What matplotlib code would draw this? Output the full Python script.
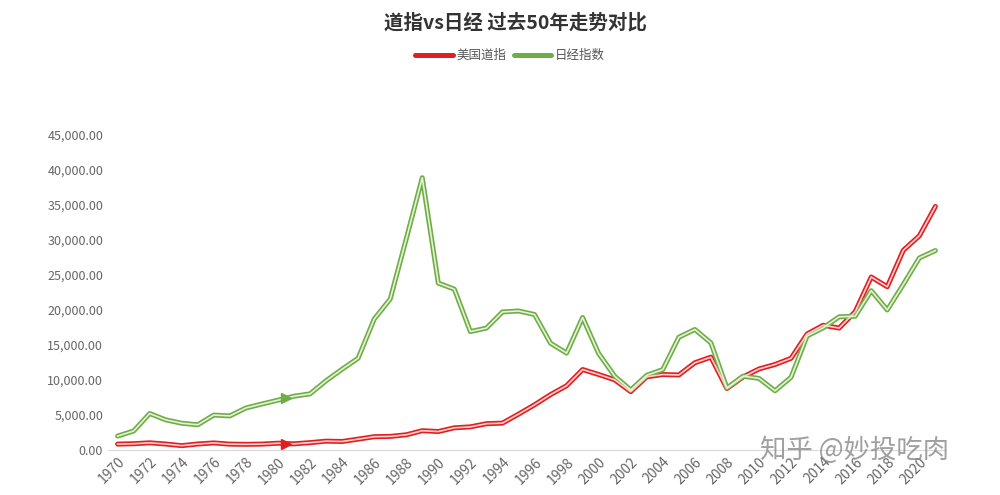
import numpy as np
import matplotlib.pyplot as plt

plt.rcParams['font.family'] = ['Noto Sans CJK SC', 'DejaVu Sans']

years = list(range(1970, 2022))
dow = [840, 890, 1020, 850, 616, 852, 1004, 831, 805, 838, 964, 875, 1046, 1258, 1211,
       1546, 1895, 1938, 2168, 2753, 2633, 3168, 3301, 3754, 3834, 5117, 6448, 7908, 9181,
       11497, 10787, 10021, 8341, 10453, 10783, 10717, 12463, 13264, 8776, 10428, 11577,
       12217, 13104, 16576, 17823, 17425, 19762, 24719, 23327, 28538, 30606, 34800]
nikkei = [1987, 2713, 5207, 4306, 3817, 3600, 4990, 4865, 6001, 6569, 7116, 7681, 8016,
          9893, 11542, 13113, 18701, 21564, 30159, 38915, 23848, 22983, 16924, 17417, 19723,
          19868, 19361, 15258, 13842, 18934, 13785, 10542, 8578, 10676, 11488, 16111, 17225,
          15307, 8859, 10546, 10228, 8455, 10395, 16291, 17450, 19033, 19114, 22764, 20014,
          23656, 27444, 28500]

fig = plt.figure(figsize=(10, 4.95), dpi=100)
ax = fig.add_axes([0.108, 0.091, 0.837, 0.636])

for vals, col, light, name in [(dow, '#e02020', '#ffd0d0', '美国道指'),
                               (nikkei, '#70ad47', '#e4f2d8', '日经指数')]:
    ax.plot(years, vals, color=col, lw=3.6, solid_capstyle='round', label=name)
    ax.plot(years, vals, color=light, lw=1.2, zorder=3)
    i = years.index(1981)
    ax.plot(years[i] - 0.5, (vals[i] + vals[i - 1]) / 2, marker='>', color=col, ms=7, zorder=4)

ax.set_xlim(1969.4, 2021.6)
ax.set_ylim(0, 45000)
ax.set_yticks(range(0, 45001, 5000))
ax.set_yticklabels([f'{v:,.2f}' for v in range(0, 45001, 5000)], color='#666666', fontsize=9)
ax.set_xticks(range(1970, 2022, 2))
ax.set_xticklabels([str(y) for y in range(1970, 2022, 2)], rotation=45, ha='right',
                   rotation_mode='anchor', color='#666666', fontsize=10)
for s in ['top', 'right', 'left']:
    ax.spines[s].set_visible(False)
ax.spines['bottom'].set_color('#d9d9d9')
ax.tick_params(length=0)

fig.text(0.515, 0.955, '道指vs日经 过去50年走势对比', ha='center', va='center',
         fontsize=14, fontweight='bold', color='#333333')
h, l = ax.get_legend_handles_labels()
fig.legend(h, l, loc='center', bbox_to_anchor=(0.51, 0.888), ncol=2, frameon=False,
           fontsize=9, handlelength=3, columnspacing=0.6, handletextpad=0.3,
           labelcolor='#555555')
fig.text(0.76, 0.075, '知乎 @妙投吃肉', fontsize=19, color='#888888', alpha=0.8)

fig.savefig('out.png', dpi=100, facecolor='white')
